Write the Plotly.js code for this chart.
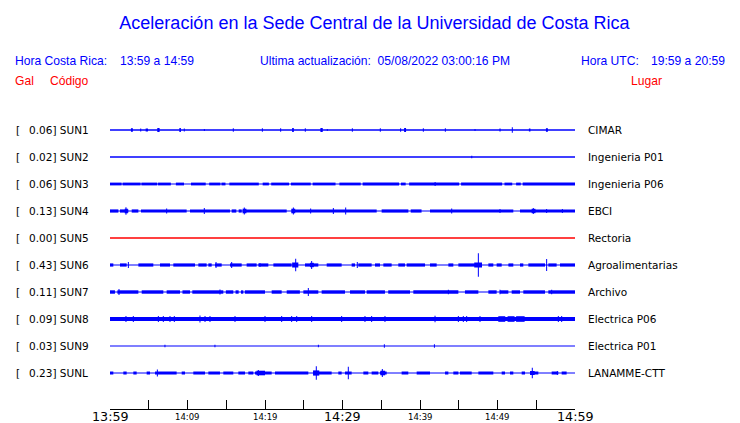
<!DOCTYPE html>
<html>
<head>
<meta charset="utf-8">
<script src="https://cdn.plot.ly/plotly-3.0.1.min.js"></script>
<style>html,body{margin:0;padding:0;background:#fff;}#chart{width:740px;height:423px;}</style>
</head>
<body>
<div id="chart"></div>
<script>
// ---------- DATA ----------
const stationCodes = ['SUN1','SUN2','SUN3','SUN4','SUN5','SUN6','SUN7','SUN8','SUN9','SUNL'];
const peakGal = ['0.06','0.02','0.06','0.13','0.00','0.43','0.11','0.09','0.03','0.23'];
const places = ['CIMAR','Ingenieria P01','Ingenieria P06','EBCI','Rectoria','Agroalimentarias','Archivo','Electrica P06','Electrica P01','LANAMME-CTT'];
const tickMinutes = [0,5,10,15,20,25,30,35,40,45,50,55,60];
const labelMinutes = [0,10,20,30,40,50,60];
const labelText = ['13:59','14:09','14:19','14:29','14:39','14:49','14:59'];
const labelMajor = [true,false,false,true,false,false,true];

// bursts: [start minute, end minute, half amplitude (trace units, 27 = row spacing)]
const sun1Bursts = [[2.7,2.95,1.8],[3.93,4.0,1.5],[4.6,4.9,1.5],[6.1,6.4,2],[8.95,9.15,2],[9.55,9.62,1.5],[12.15,12.2,1],[15.88,15.94,1.8],[19.63,19.69,1.8],[21.99,22.05,1.8],[23.5,23.72,2],[25.17,25.23,1.8],[27.15,27.45,2],[28.0,28.08,1],[31.24,31.3,1.8],[34.85,34.91,1.8],[37.45,37.55,1.8],[37.95,38.2,2],[40.4,40.46,1.8],[43.24,43.3,1.8],[47.07,47.13,1],[50.25,50.4,1.5],[51.88,51.94,2.7],[54.05,54.25,1.5],[56.25,56.5,1.8]];
const sun2Bursts = [[46.64,46.72,1.3]];
const sun3Bursts = [[0,1.5,1.4],[1.62,3.95,1.4],[4.05,6.1,1.4],[6.2,7.85,1.4],[8.5,9.55,1.4],[10.45,12.35,1.4],[12.8,14.25,1.4],[14.38,14.9,1.4],[15.4,19.2,1.4],[19.7,20.5,1.4],[20.8,23.1,1.4],[23.35,25.9,1.4],[26.15,29.1,1.4],[29.6,32.35,1.4],[32.6,37.3,1.4],[37.55,38.15,1.4],[38.6,45.05,1.4],[45.3,50.6,1.4],[50.9,51.9,1.4],[52.4,53.0,1.4],[53.25,60,1.4],[41.9,42.0,2]];
const sun4Bursts = [[0,1.08,1.6],[1.29,2.37,1.6],[2.8,3.66,1.6],[4.0,9.89,1.6],[10.32,15.48,1.6],[15.7,16.3,1.6],[16.6,17.0,1.6],[17.2,22.8,1.6],[23.44,34.41,1.6],[35.05,38.5,1.6],[38.8,40.2,1.6],[41.29,52.04,1.6],[52.9,60,1.6],[1.9,2.3,2.3],[17.1,17.6,2.3],[23.4,23.9,2.3],[54.4,54.9,2.2],
  [2.0,2.12,3.7],[7.25,7.37,2.5],[12.11,12.23,3],[17.27,17.39,3.5],[23.6,23.72,3.5],[25.83,25.95,2.5],[28.76,28.88,3],[30.35,30.47,3.5],[44.03,44.15,2.5],[50.26,50.38,2],[54.56,54.68,3],[56.28,56.4,2],[58.31,58.43,2]];
const sun5Bursts = [];
const sun6Bursts = [[0,0.43,1.6],[1.29,2.15,1.6],[3.66,5.59,1.6],[6.45,7.74,1.6],[8.17,10.97,1.6],[11.4,12.47,1.6],[12.69,13.12,1.6],[13.55,14.41,1.6],[15.48,16.99,1.6],[17.63,18.92,1.6],[19.14,20.43,1.6],[21.08,23.44,1.6],[25.16,26.88,1.6],[27.96,29.89,1.6],[31.18,31.61,1.6],[32.04,33.76,1.6],[34.19,34.84,1.6],[35.27,36.34,1.6],[37.2,38.06,1.6],[38.28,40.65,1.6],[41.29,42.15,1.6],[43.66,44.3,1.6],[44.95,47.96,1.6],[48.82,49.46,1.6],[49.89,50.54,1.6],[51.4,52.04,1.6],[52.9,53.33,1.6],[53.98,56.13,1.6],[56.56,57.63,1.6],[58.06,60,1.6],
  [23.5,24.3,2.5],[47.0,48.0,2.5],[25.8,26.3,2.2],
  [2.31,2.43,3],[13.62,13.74,3],[15.64,15.76,3],[19.29,19.41,2],[23.9,24.02,6.3],[25.96,26.08,4],[31.85,31.97,3],[47.47,47.59,11.7],[56.28,56.4,6]];
const sun7Bursts = [[0,0.64,1.7],[0.95,3.66,1.7],[4.09,6.88,1.7],[7.31,9.03,1.7],[9.35,10.32,1.7],[10.62,14.62,1.7],[14.95,15.91,1.7],[16.2,16.6,1.7],[16.9,17.2,1.7],[17.4,20.0,1.7],[20.86,22.15,1.7],[22.8,24.5,1.7],[24.95,26.88,1.7],[27.31,30.32,1.7],[30.97,32.9,1.7],[33.12,35.48,1.7],[35.9,38.71,1.7],[39.14,44.95,1.7],[45.8,47.53,1.7],[48.82,49.89,1.7],[50.32,51.4,1.7],[51.83,52.9,1.7],[53.33,56.13,1.7],[56.56,60,1.7],
  [1.1,1.22,3],[14.13,14.25,2.5],[25.53,25.65,4],[43.6,43.72,2.3],[50.26,50.38,2.3],[56.93,57.05,2.3]];
const sun8Bursts = [[0,60,1.9],[50.1,51.0,2.8],[51.3,52.2,2.8],[52.4,53.5,2.8],
  [2.0,2.12,3],[2.95,3.07,3],[6.18,6.3,3],[6.82,6.94,3],[7.68,7.8,3],[8.24,8.36,3],[11.55,11.67,3.5],[12.2,12.32,3],[12.84,12.96,3],[16.07,16.19,3],[19.94,20.06,3],[22.09,22.21,3],[23.38,23.5,3],[24.03,24.15,3],[25.96,26.08,3],[29.83,29.95,3],[32.84,32.96,3],[33.7,33.82,3],[35.42,35.54,3],[41.88,42.0,3.3],[44.89,45.01,3],[45.53,45.65,3],[45.96,46.08,3],[47.68,47.8,3],[57.79,57.91,3],[58.22,58.34,3]];
const sun9Bursts = [[7.05,7.13,1.2],[13.5,13.58,1.2],[26.85,26.93,1.2],[35.36,35.44,1.8],[41.82,41.9,1.8]];
const sunLBursts = [[0,0.43,1.5],[1.72,2.15,1.5],[3.01,3.44,1.5],[4.73,5.16,1.5],[5.81,8.6,1.5],[9.25,9.68,1.5],[10.75,12.26,1.5],[12.69,14.19,1.5],[14.62,15.91,1.5],[16.56,17.42,1.5],[17.85,18.49,1.5],[18.71,20.86,1.5],[21.29,25.59,1.5],[26.24,28.6,1.5],[29.46,29.89,1.5],[30.32,31.18,1.5],[32.69,33.33,1.5],[33.76,34.62,1.5],[34.84,35.7,1.5],[37.63,38.49,1.5],[39.57,41.29,1.5],[43.23,43.66,1.5],[44.3,44.95,1.5],[45.16,46.67,1.5],[47.53,49.46,1.5],[50.54,50.97,1.5],[51.61,52.04,1.5],[53.12,53.55,1.5],[54.19,55.27,1.5],[56.99,57.85,1.5],[58.28,58.92,1.5],
  [18.9,20.0,2.3],[26.2,27.0,2.6],[34.9,35.5,2.3],[54.2,54.8,2.0],
  [6.05,6.17,3.5],[19.08,19.2,3],[26.56,26.68,6.7],[30.69,30.81,6.3],[35.08,35.2,4],[54.43,54.55,5.3],[57.66,57.78,2]];
const burstsByRow = [sun1Bursts,sun2Bursts,sun3Bursts,sun4Bursts,sun5Bursts,sun6Bursts,sun7Bursts,sun8Bursts,sun9Bursts,sunLBursts];

// ---------- STYLE ----------
const BLUE = '#0000ff', RED = '#ff0000';
const rowColors = [BLUE,BLUE,BLUE,BLUE,RED,BLUE,BLUE,BLUE,BLUE,BLUE];
const baseWidths = [1.4,1.3,1,1,1.4,1,1,1,1.2,1];
const UNITS_PER_ROW = 27;
const PL = 110, PW = 465, PT = 116, PH = 293;
const px2x = p => (p - PL) / PW;
const px2y = p => (PT + PH - p) / PH;

const traces = [];
stationCodes.forEach((code, i) => {
  const yRow = -i;
  traces.push({type:'scatter', mode:'lines', x:[0,60], y:[yRow,yRow],
    line:{color:rowColors[i], width:baseWidths[i]}, hoverinfo:'skip', showlegend:false});
  const b = burstsByRow[i];
  if (b.length) {
    traces.push({type:'bar',
      x: b.map(s => (s[0]+s[1])/2),
      width: b.map(s => Math.max(s[1]-s[0], 0.13)),
      base: b.map(s => yRow - s[2]/UNITS_PER_ROW),
      y: b.map(s => 2*s[2]/UNITS_PER_ROW),
      marker:{color:rowColors[i], line:{width:0}},
      hoverinfo:'skip', showlegend:false});
  }
});

const ann = [];
const hdr = (px, py, text, color) => ann.push({xref:'paper', yref:'paper', x:px2x(px-2), y:px2y(py),
  xanchor:'left', yanchor:'middle', showarrow:false, text:text,
  font:{family:'Liberation Sans, Arial', size:12.1, color:color}});
hdr(15, 61, 'Hora Costa Rica:', BLUE);
hdr(120, 61, '13:59 a 14:59', BLUE);
hdr(260, 61, 'Ultima actualización:&nbsp;&nbsp;05/08/2022 03:00:16 PM', BLUE);
hdr(580.5, 61, 'Hora UTC:', BLUE);
hdr(651, 61, '19:59 a 20:59', BLUE);
hdr(15, 81, 'Gal', RED);
hdr(50, 81, 'Código', RED);
hdr(630.5, 81, 'Lugar', RED);

const lblFont = {family:'DejaVu Sans', size:10.5, color:'#000'};
stationCodes.forEach((code, i) => {
  ann.push({xref:'paper', yref:'y', x:px2x(13.5), y:-i, xanchor:'left', yanchor:'middle', showarrow:false, text:'[', font:lblFont});
  ann.push({xref:'paper', yref:'y', x:px2x(26.5), y:-i, xanchor:'left', yanchor:'middle', showarrow:false, text:peakGal[i]+'] '+code, font:lblFont});
  ann.push({xref:'paper', yref:'y', x:px2x(586), y:-i, xanchor:'left', yanchor:'middle', showarrow:false, text:places[i], font:lblFont});
});
labelMinutes.forEach((m, k) => {
  ann.push({xref:'x', yref:'paper', x:m, y:px2y(416.5), xanchor:'center', yanchor:'middle', showarrow:false,
    text:labelText[k], font:{family:'DejaVu Sans', size: labelMajor[k] ? 12.7 : 8.5, color:'#000'}});
});

const layout = {
  width:740, height:423,
  margin:{l:PL, r:740-PL-PW, t:PT, b:423-PT-PH, pad:0},
  paper_bgcolor:'#fff', plot_bgcolor:'#fff',
  showlegend:false, barmode:'overlay',
  title:{text:'Aceleración en la Sede Central de la Universidad de Costa Rica',
    xref:'container', yref:'container', x:374.5/740, y:1-22.5/423, xanchor:'center', yanchor:'middle',
    font:{family:'Liberation Sans, Arial', size:18, color:BLUE}},
  xaxis:{range:[0,60], showgrid:false, zeroline:false, showline:true, linecolor:'#000', linewidth:1,
    ticks:'inside', ticklen:9, tickwidth:1, tickcolor:'#000', tickmode:'array', tickvals:tickMinutes,
    showticklabels:false, fixedrange:true},
  yaxis:{range:[-10.333, 0.5185], visible:false, showgrid:false, zeroline:false, fixedrange:true},
  annotations: ann
};
Plotly.newPlot('chart', traces, layout, {staticPlot:true, displayModeBar:false});
</script>
</body>
</html>
